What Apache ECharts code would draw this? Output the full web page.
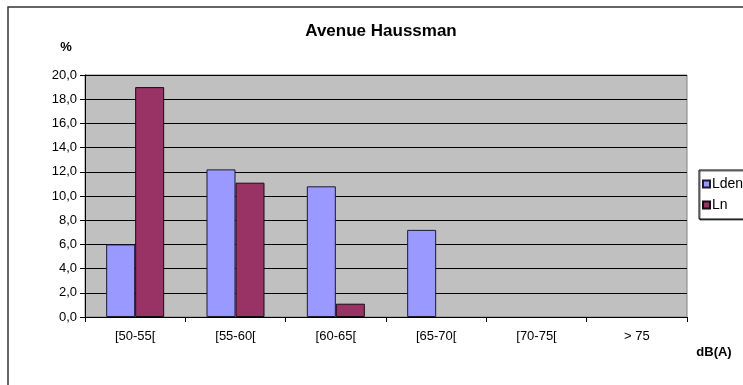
<!DOCTYPE html>
<html>
<head>
<meta charset="utf-8">
<script src="https://cdn.jsdelivr.net/npm/echarts@6/dist/echarts.min.js"></script>
<style>
  html, body { margin: 0; padding: 0; background: #fff; }
  #chart { width: 743px; height: 385px; }
</style>
</head>
<body>
<div id="chart"></div>
<script>
// Noise-level classes, in dB(A)
const categories = ['[50-55[', '[55-60[', '[60-65[', '[65-70[', '[70-75[', '> 75'];
// Share of exposure per class, in %
const ldenValues = [6.0, 12.2, 10.8, 7.2, 0, 0];
const lnValues = [19.0, 11.1, 1.1, 0, 0, 0];
const seriesNames = ['Lden', 'Ln'];
const yTicks = { min: 0, max: 20, step: 2 };

const FONT = '"Liberation Sans", Arial, sans-serif';

// Empty classes get no outline, so nothing shows at the baseline
function toBarData(values) {
  return values.map(v => (v === 0 ? { value: v, itemStyle: { borderWidth: 0 } } : v));
}

const chart = echarts.init(document.getElementById('chart'), null, { renderer: 'canvas' });

chart.setOption({
  backgroundColor: '#ffffff',
  animation: false,
  textStyle: { fontFamily: FONT },
  graphic: [
    {
      type: 'rect',
      shape: { x: 8, y: 7, width: 800, height: 420 },
      style: { fill: 'none', stroke: '#333', lineWidth: 1.5 },
      silent: true
    },
    {
      type: 'text',
      style: { x: 381, y: 31, text: 'Avenue Haussman', font: 'bold 17px ' + FONT, fill: '#000', align: 'center', verticalAlign: 'middle' }
    },
    {
      type: 'text',
      style: { x: 66, y: 47, text: '%', font: 'bold 13px ' + FONT, fill: '#000', align: 'center', verticalAlign: 'middle' }
    },
    {
      type: 'text',
      style: { x: 714, y: 352, text: 'dB(A)', font: 'bold 13px ' + FONT, fill: '#000', align: 'center', verticalAlign: 'middle' }
    }
  ],
  legend: {
    data: seriesNames,
    orient: 'vertical',
    left: 699,
    top: 170,
    icon: 'rect',
    itemWidth: 7,
    itemHeight: 7,
    itemGap: 7,
    padding: [7, 20, 7, 3],
    borderColor: '#000',
    borderWidth: 1,
    backgroundColor: '#fff',
    shadowColor: 'rgba(0,0,0,0.6)',
    shadowOffsetX: 1,
    shadowOffsetY: 1,
    textStyle: { fontFamily: FONT, fontSize: 14, color: '#000', padding: [0, 0, 0, -3] }
  },
  grid: {
    left: 85, right: 56, top: 75, bottom: 68,
    show: true,
    backgroundColor: '#c0c0c0',
    borderColor: '#808080',
    borderWidth: 1
  },
  xAxis: {
    type: 'category',
    data: categories,
    boundaryGap: true,
    axisLine: { lineStyle: { color: '#000', width: 1 } },
    axisTick: { show: true, alignWithLabel: false, length: 5, lineStyle: { color: '#000' } },
    axisLabel: { color: '#000', fontSize: 13, fontFamily: FONT, margin: 13 },
    splitLine: { show: false }
  },
  yAxis: {
    type: 'value',
    min: yTicks.min,
    max: yTicks.max,
    interval: yTicks.step,
    axisLine: { show: true, lineStyle: { color: '#000', width: 1 } },
    axisTick: { show: true, length: 5, lineStyle: { color: '#000' } },
    axisLabel: {
      color: '#000', fontSize: 13, fontFamily: FONT, margin: 8,
      formatter: v => v.toFixed(1).replace('.', ',')
    },
    splitLine: { show: true, lineStyle: { color: '#000', width: 1 } }
  },
  series: [
    {
      name: seriesNames[0],
      type: 'bar',
      data: toBarData(ldenValues),
      barWidth: 29,
      barGap: '0%',
      itemStyle: { color: '#9999ff', borderColor: '#1a1a33', borderWidth: 1 }
    },
    {
      name: seriesNames[1],
      type: 'bar',
      data: toBarData(lnValues),
      barWidth: 29,
      barGap: '0%',
      itemStyle: { color: '#993366', borderColor: '#1a0a12', borderWidth: 1 }
    }
  ]
});
</script>
</body>
</html>
